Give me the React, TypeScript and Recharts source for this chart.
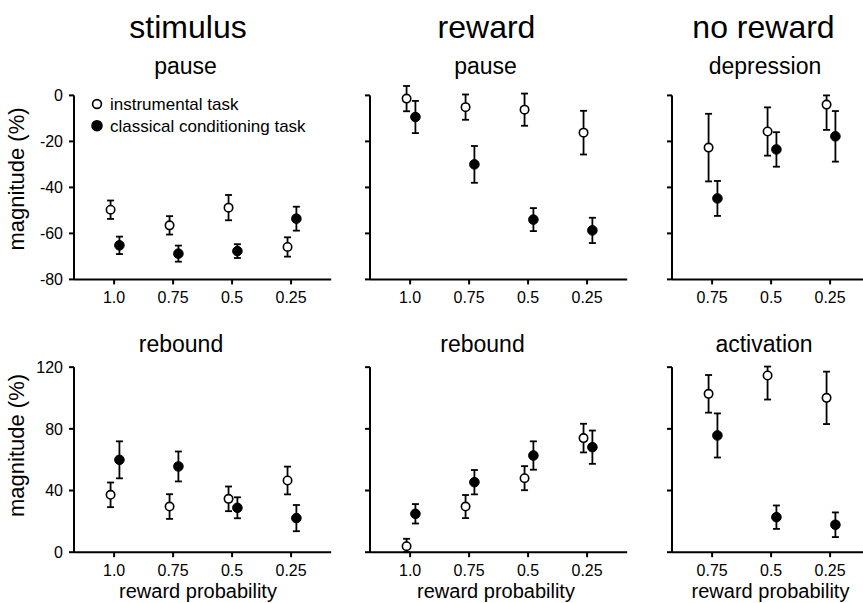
import React from "react";
import {
  ScatterChart,
  Scatter,
  XAxis,
  YAxis,
  ErrorBar,
  ReferenceLine,
  Legend,
} from "recharts";

// series names and x tick labels
const seriesNames = ["instrumental task", "classical conditioning task"];
const probLabels = ["1.0", "0.75", "0.5", "0.25"];
const noRewardLabels = ["0.75", "0.5", "0.25"];

// top row: pause / depression magnitude (%)
const stimPauseInstr = [-49.7, -56.5, -48.8, -65.9];
const stimPauseInstrErr = [4, 4, 5.5, 4.2];
const stimPauseClass = [-65.2, -68.8, -67.7, -53.6];
const stimPauseClassErr = [3.8, 3.5, 3, 5.2];

const rewPauseInstr = [-1.4, -5.1, -6.2, -16.2];
const rewPauseInstrErr = [5.5, 5.5, 7, 9.5];
const rewPauseClass = [-9.4, -30, -54, -58.7];
const rewPauseClassErr = [7, 8, 5, 5.5];

const noRewDepInstr = [-22.7, -15.7, -4];
const noRewDepInstrErr: (number | number[])[] = [14.7, 10.5, [11, 4]];
const noRewDepClass = [-44.8, -23.5, -17.8];
const noRewDepClassErr = [7.6, 7.5, 11];

// bottom row: rebound / activation magnitude (%)
const stimRebInstr = [37.2, 29.6, 34.6, 46.5];
const stimRebInstrErr = [8, 8, 8, 9];
const stimRebClass = [59.9, 55.6, 28.8, 22.1];
const stimRebClassErr = [12, 9.7, 6.8, 8.5];

const rewRebInstr = [3.9, 29.6, 48, 74];
const rewRebInstrErr: (number | number[])[] = [[3.9, 4.8], 7.5, 7.8, 9.3];
const rewRebClass = [24.9, 45.4, 62.7, 68.1];
const rewRebClassErr = [6.3, 7.9, 9.2, 10.8];

const noRewActInstr = [102.7, 114.6, 100.1];
const noRewActInstrErr: (number | number[])[] = [12.2, [15.6, 5.8], 17];
const noRewActClass = [75.7, 22.7, 17.8];
const noRewActClassErr = [14.3, 7.6, 8];

const topTicks = [-80, -60, -40, -20, 0];
const bottomTicks = [0, 40, 80, 120];

const OPEN_SHIFT = -0.06;
const FILLED_SHIFT = 0.09;
const X_MIN = 0.32;

const build = (vals: number[], errs: (number | number[])[], shift: number) =>
  vals.map((v, i) => ({ x: i + 1 + shift, y: v, err: errs[i] }));

const OpenDot = (p: any) => (
  <circle cx={p.cx} cy={p.cy} r={4.2} fill="#fff" stroke="#000" strokeWidth={1.6} />
);
const FilledDot = (p: any) => (
  <circle cx={p.cx} cy={p.cy} r={4.8} fill="#000" stroke="#000" strokeWidth={1} />
);

// legend keeps the series order (Recharts sorts by name otherwise)
const LegendBox = (props: any) => {
  const items = [...(props.payload || [])].sort(
    (a: any, b: any) => seriesNames.indexOf(a.value) - seriesNames.indexOf(b.value)
  );
  return (
    <svg width={240} height={44}>
      {items.map((e: any, i: number) => {
        const open = e.value === seriesNames[0];
        return (
          <g key={e.value}>
            <circle
              cx={10}
              cy={10 + i * 21.7}
              r={open ? 4.4 : 5}
              fill={open ? "#fff" : "#000"}
              stroke="#000"
              strokeWidth={1.6}
            />
            <text x={23} y={15.8 + i * 21.7} fontSize={17} fill="#000">
              {e.value}
            </text>
          </g>
        );
      })}
    </svg>
  );
};

interface PanelProps {
  left: number;
  top: number;
  width: number;
  height: number;
  yAxisWidth: number;
  yDomain: [number, number];
  yTicks: number[];
  xMax: number;
  labels: string[];
  instr: number[];
  instrErr: (number | number[])[];
  cls: number[];
  clsErr: (number | number[])[];
  showYLabels?: boolean;
  legend?: boolean;
}

function Panel(p: PanelProps) {
  const xTicks = p.labels.map((_, i) => i + 1);
  const yTop = p.yTicks[p.yTicks.length - 1];
  return (
    <div style={{ position: "absolute", left: p.left, top: p.top }}>
      <ScatterChart
        width={p.width}
        height={p.height}
        margin={{ top: 10, right: 10, bottom: 0, left: 0 }}
      >
        <XAxis
          type="number"
          dataKey="x"
          domain={[X_MIN, p.xMax]}
          ticks={xTicks}
          tickFormatter={(v) => p.labels[v - 1] ?? ""}
          height={30}
          tickSize={5}
          tickMargin={7}
          axisLine={{ stroke: "#000", strokeWidth: 2 }}
          tickLine={{ stroke: "#000", strokeWidth: 2 }}
          tick={{ fill: "#000", fontSize: 16 }}
        />
        <YAxis
          type="number"
          dataKey="y"
          domain={p.yDomain}
          ticks={p.yTicks}
          width={p.yAxisWidth}
          tickSize={5}
          tickMargin={6}
          axisLine={false}
          tickLine={{ stroke: "#000", strokeWidth: 2 }}
          tick={{ fill: "#000", fontSize: 16 }}
          tickFormatter={(v) => (p.showYLabels ? String(v) : "")}
        />
        <ReferenceLine
          segment={[
            { x: X_MIN, y: p.yTicks[0] },
            { x: X_MIN, y: yTop },
          ]}
          stroke="#000"
          strokeWidth={2}
        />
        {p.legend && (
          <Legend
            layout="vertical"
            align="center"
            verticalAlign="middle"
            wrapperStyle={{ left: 86.7, top: 27.4, width: 240 }}
            content={LegendBox}
          />
        )}
        <Scatter
          name={seriesNames[0]}
          data={build(p.instr, p.instrErr, OPEN_SHIFT)}
          fill="#ffffff"
          shape={OpenDot}
          isAnimationActive={false}
        >
          <ErrorBar
            dataKey="err"
            direction="y"
            width={3.5}
            stroke="#000"
            strokeWidth={1.8}
            isAnimationActive={false}
          />
        </Scatter>
        <Scatter
          name={seriesNames[1]}
          data={build(p.cls, p.clsErr, FILLED_SHIFT)}
          fill="#000000"
          shape={FilledDot}
          isAnimationActive={false}
        >
          <ErrorBar
            dataKey="err"
            direction="y"
            width={3.5}
            stroke="#000"
            strokeWidth={1.8}
            isAnimationActive={false}
          />
        </Scatter>
      </ScatterChart>
    </div>
  );
}

const TOP = { top: 66.6, height: 242.4, yDomain: [-80, 8] as [number, number], yTicks: topTicks };
const BOT = { top: 350.5, height: 231.2, yDomain: [0, 124] as [number, number], yTicks: bottomTicks };

export default function App() {
  return (
    <div
      style={{
        position: "absolute",
        left: 0,
        top: 0,
        width: 863,
        height: 603,
        overflow: "hidden",
        background: "#fff",
        fontFamily: "'Liberation Sans', Arial, sans-serif",
      }}
    >
      <Panel {...TOP} left={0} width={341.2} yAxisWidth={74} xMax={4.68} labels={probLabels}
        instr={stimPauseInstr} instrErr={stimPauseInstrErr} cls={stimPauseClass} clsErr={stimPauseClassErr}
        showYLabels legend />
      <Panel {...TOP} left={330} width={307.2} yAxisWidth={40} xMax={4.68} labels={probLabels}
        instr={rewPauseInstr} instrErr={rewPauseInstrErr} cls={rewPauseClass} clsErr={rewPauseClassErr} />
      <Panel {...TOP} left={632} width={243.5} yAxisWidth={40} xMax={3.6} labels={noRewardLabels}
        instr={noRewDepInstr} instrErr={noRewDepInstrErr} cls={noRewDepClass} clsErr={noRewDepClassErr} />

      <Panel {...BOT} left={0} width={341.2} yAxisWidth={74} xMax={4.68} labels={probLabels}
        instr={stimRebInstr} instrErr={stimRebInstrErr} cls={stimRebClass} clsErr={stimRebClassErr}
        showYLabels />
      <Panel {...BOT} left={330} width={307.2} yAxisWidth={40} xMax={4.68} labels={probLabels}
        instr={rewRebInstr} instrErr={rewRebInstrErr} cls={rewRebClass} clsErr={rewRebClassErr} />
      <Panel {...BOT} left={632} width={243.5} yAxisWidth={40} xMax={3.6} labels={noRewardLabels}
        instr={noRewActInstr} instrErr={noRewActInstrErr} cls={noRewActClass} clsErr={noRewActClassErr} />

      <svg
        width={863}
        height={603}
        style={{ position: "absolute", left: 0, top: 0, pointerEvents: "none" }}
      >
        <g fill="#000" textAnchor="middle">
          <text x={188} y={38} fontSize={32}>stimulus</text>
          <text x={486.5} y={38} fontSize={32}>reward</text>
          <text x={763.5} y={38} fontSize={32}>no reward</text>

          <text x={185.5} y={74} fontSize={23}>pause</text>
          <text x={485.5} y={74} fontSize={23}>pause</text>
          <text x={765} y={74} fontSize={23}>depression</text>

          <text x={181} y={352} fontSize={23}>rebound</text>
          <text x={482.5} y={352} fontSize={23}>rebound</text>
          <text x={764} y={352} fontSize={23}>activation</text>

          <text x={198} y={598} fontSize={20}>reward probability</text>
          <text x={496} y={598} fontSize={20}>reward probability</text>
          <text x={770.5} y={598} fontSize={20}>reward probability</text>

          <text x={0} y={0} fontSize={22} transform="translate(24,179) rotate(-90)">magnitude (%)</text>
          <text x={0} y={0} fontSize={22} transform="translate(24,445.5) rotate(-90)">magnitude (%)</text>
        </g>
      </svg>
    </div>
  );
}
